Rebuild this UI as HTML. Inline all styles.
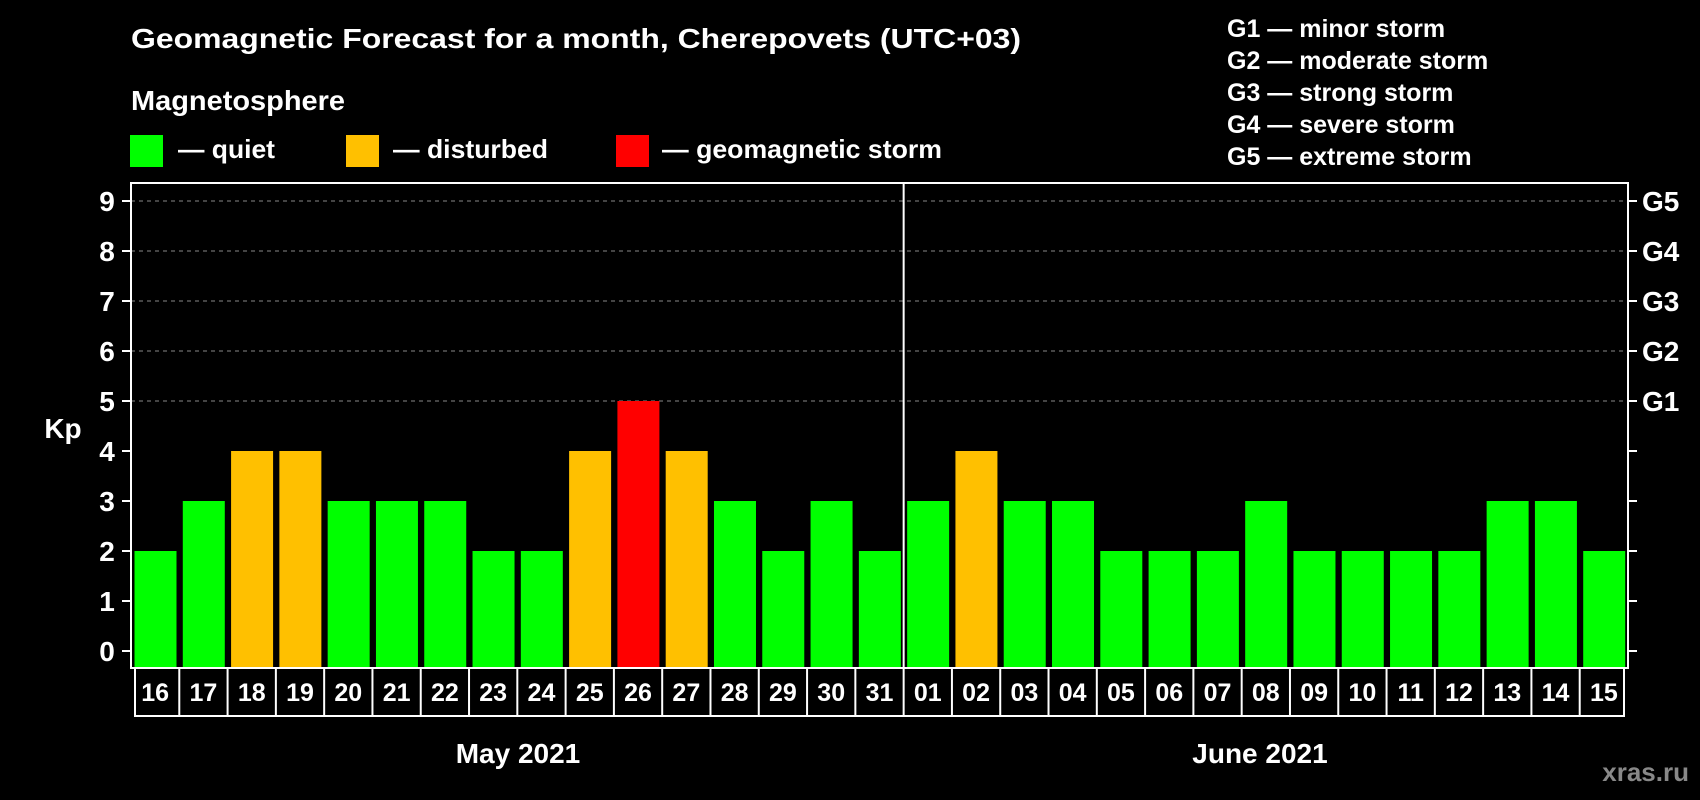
<!DOCTYPE html>
<html><head><meta charset="utf-8"><style>
html,body{margin:0;padding:0;background:#000;}
svg{display:block;font-family:"Liberation Sans",Arial,sans-serif;font-weight:bold;}
</style></head><body>
<svg id="chart" width="1700" height="800" viewBox="0 0 1700 800">
<rect x="0" y="0" width="1700" height="800" fill="#000"/>
<text x="131" y="48" fill="#fff" font-size="28" textLength="890" lengthAdjust="spacingAndGlyphs">Geomagnetic Forecast for a month, Cherepovets (UTC+03)</text>
<text x="131" y="110" fill="#fff" font-size="28" textLength="214" lengthAdjust="spacingAndGlyphs">Magnetosphere</text>
<g>
<rect x="130" y="135" width="33" height="32" fill="#00ff00"/>
<text x="178" y="158" fill="#fff" font-size="26" textLength="97" lengthAdjust="spacingAndGlyphs">— quiet</text>
</g>
<g>
<rect x="346" y="135" width="33" height="32" fill="#ffc000"/>
<text x="393" y="158" fill="#fff" font-size="26" textLength="155" lengthAdjust="spacingAndGlyphs">— disturbed</text>
</g>
<g>
<rect x="616" y="135" width="33" height="32" fill="#ff0000"/>
<text x="662" y="158" fill="#fff" font-size="26" textLength="280" lengthAdjust="spacingAndGlyphs">— geomagnetic storm</text>
</g>
<g id="glegend"></g>
<g id="grid"></g>
<g id="bars"></g>
<g id="axes"></g>
<text x="63" y="438" fill="#fff" font-size="28" text-anchor="middle">Kp</text>
<text x="518" y="763" fill="#fff" font-size="28" text-anchor="middle">May 2021</text>
<text x="1260" y="763" fill="#fff" font-size="28" text-anchor="middle">June 2021</text>
<text x="1689" y="781" fill="#888" font-size="26" text-anchor="end">xras.ru</text>
</svg>
<script>
const days = ["16","17","18","19","20","21","22","23","24","25","26","27","28","29","30","31","01","02","03","04","05","06","07","08","09","10","11","12","13","14","15"];
const kpValues = [2,3,4,4,3,3,3,2,2,4,5,4,3,2,3,2,3,4,3,3,2,2,2,3,2,2,2,2,3,3,2];
const yTicks = [0,1,2,3,4,5,6,7,8,9];
const gLabels = ["G1","G2","G3","G4","G5"];
const gLegend = ["G1 — minor storm","G2 — moderate storm","G3 — strong storm","G4 — severe storm","G5 — extreme storm"];
const monthSplit = 16;

const NS="http://www.w3.org/2000/svg";
const L=131,R=1628,T=183,B=668,Y0=651,UNIT=50;
const slot=(R-L)/days.length;
const xPos=i=>L+i*slot;
const yPos=v=>Y0-v*UNIT;
function mk(tag,attrs,parent){const e=document.createElementNS(NS,tag);for(const k in attrs)e.setAttribute(k,attrs[k]);parent.appendChild(e);return e;}
const grid=document.getElementById('grid'),bars=document.getElementById('bars'),axes=document.getElementById('axes'),gl=document.getElementById('glegend');

gLegend.forEach((t,i)=>{
  const e=mk('text',{x:1227,y:37+i*32,fill:'#fff','font-size':25},gl);
  
  
  e.textContent=t;
});

yTicks.forEach(v=>{
  const y=yPos(v);
  if(v>=5){
    const g=mk('line',{x1:L,x2:R,y1:y,y2:y,stroke:'#888','stroke-width':1,'stroke-dasharray':'4,4'},grid);
    
    
  }
  const t1=mk('line',{x1:L-9,x2:L,y1:y,y2:y,stroke:'#fff','stroke-width':2},axes);
  
  
  const t2=mk('line',{x1:R,x2:R+9,y1:y,y2:y,stroke:'#fff','stroke-width':2},axes);
  
  
  const lb=mk('text',{x:107,y:y+10,fill:'#fff','font-size':28,'text-anchor':'middle'},axes);
  
  
  lb.textContent=v;
  if(v>=5){
    const gt=mk('text',{x:1642,y:y+10,fill:'#fff','font-size':28},axes);
    
    
    gt.textContent=gLabels[v-5];
  }
});

kpValues.forEach((v,i)=>{
  const col=v>=5?'#ff0000':(v>=4?'#ffc000':'#00ff00');
  const r=mk('rect',{x:xPos(i)+3.5,y:yPos(v),width:42,height:B-yPos(v),fill:col},bars);
  
  
});

const fr=mk('rect',{x:L,y:T,width:R-L,height:B-T,fill:'none',stroke:'#fff','stroke-width':2},axes);


const dv=mk('line',{x1:xPos(monthSplit),x2:xPos(monthSplit),y1:T,y2:B,stroke:'#fff','stroke-width':2},axes);



const box=mk('rect',{x:L+4,y:B,width:R-L-8,height:48,fill:'none',stroke:'#fff','stroke-width':2},axes);


days.forEach((d,i)=>{
  if(i>0){
    const l=mk('line',{x1:xPos(i),x2:xPos(i),y1:B,y2:B+48,stroke:'#fff','stroke-width':2},axes);
    
    
  }
  const t=mk('text',{x:xPos(i)+slot/2,y:B+33,fill:'#fff','font-size':25,'text-anchor':'middle'},axes);
  
  
  t.textContent=d;
});
</script>
</body></html>
